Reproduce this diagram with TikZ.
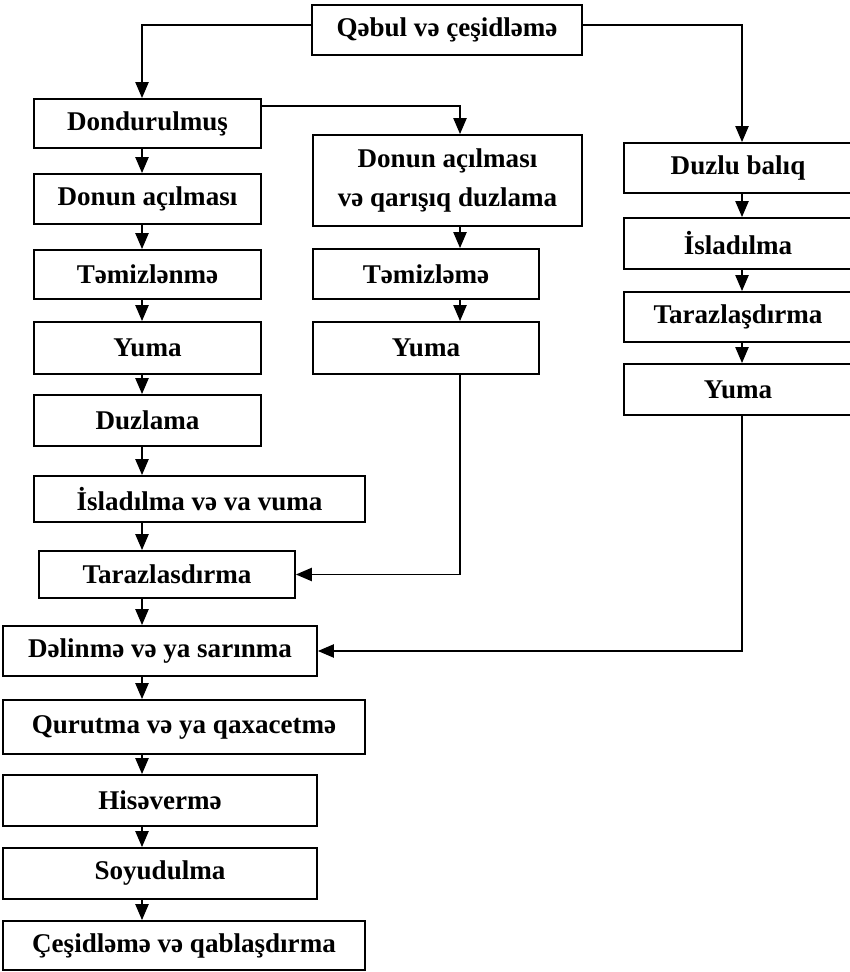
\documentclass[tikz,border=0pt]{standalone}
\usepackage{fontspec}
\setmainfont{Liberation Serif}
\usetikzlibrary{arrows.meta}

\tikzset{
  box/.style={draw, line width=1.1pt, inner sep=0pt, align=center,
    font=\bfseries\fontsize{15.4}{22}\selectfont},
  arr/.style={line width=0.75pt, -{Triangle[length=9pt,width=7.5pt]}}
}

\begin{document}
\begin{tikzpicture}[x=0.02cm, y=-0.02cm]

  \useasboundingbox (0,0) rectangle (849,972);

  % ---- columns of the vertical arrows ----
  \coordinate (lcol) at (142,0);
  \coordinate (mcol) at (460,0);
  \coordinate (rcol) at (742,0);

  % ---- top ----
  \node[box, minimum width=5.4cm, minimum height=1.0cm] (qabul) at (447,30) {Qəbul və çeşidləmə};

  % ---- left column ----
  \node[box, minimum width=4.54cm, minimum height=0.98cm] (dond)    at (147.5,123.5) {Dondurulmuş};
  \node[box, minimum width=4.54cm, minimum height=1.0cm]  (donun)   at (147.5,199)   {Donun açılması};
  \node[box, minimum width=4.54cm, minimum height=0.98cm] (temizl)  at (147.5,274.5) {Təmizlənmə};
  \node[box, minimum width=4.54cm, minimum height=1.04cm] (yumaL)   at (147.5,348)   {Yuma};
  \node[box, minimum width=4.54cm, minimum height=1.02cm] (duzlama) at (147.5,420.5) {Duzlama};
  \node[box, minimum width=6.62cm, minimum height=0.92cm] (islad)   at (199.5,499)   {İsladılma və va vuma};
  \node[box, minimum width=5.12cm, minimum height=0.94cm] (taraz)   at (167,574.5)   {Tarazlasdırma};
  \node[box, minimum width=6.28cm, minimum height=1.0cm]  (delinme) at (160,651)     {Dəlinmə və ya sarınma};
  \node[box, minimum width=7.24cm, minimum height=1.08cm] (qurutma) at (184,727)     {Qurutma və ya qaxacetmə};
  \node[box, minimum width=6.28cm, minimum height=1.02cm] (hise)    at (160,800.5)   {Hisəvermə};
  \node[box, minimum width=6.28cm, minimum height=1.02cm] (soyud)   at (160,873.5)   {Soyudulma};
  \node[box, minimum width=7.24cm, minimum height=0.98cm] (cesid)   at (184,945.5)   {Çeşidləmə və qablaşdırma};

  % ---- middle column ----
  \node[box, minimum width=5.38cm, minimum height=1.82cm] (donunM) at (447.5,180.5) {Donun açılması\\və qarışıq duzlama};
  \node[box, minimum width=4.52cm, minimum height=1.0cm]  (temizM) at (426,274)     {Təmizləmə};
  \node[box, minimum width=4.52cm, minimum height=1.04cm] (yumaM)  at (426,348)     {Yuma};

  % ---- right column (runs past the page edge) ----
  \node[box, minimum width=4.56cm, minimum height=1.0cm]  (duzlu)  at (738,168)   {Duzlu balıq};
  \node[box, minimum width=4.56cm, minimum height=1.02cm] (isladR) at (738,243.5) {İsladılma};
  \node[box, minimum width=4.56cm, minimum height=1.0cm]  (tarazR) at (738,317)   {Tarazlaşdırma};
  \node[box, minimum width=4.56cm, minimum height=1.02cm] (yumaR)  at (738,389.5) {Yuma};

  % ---- branches ----
  \draw[arr] ([yshift=2.8pt]qabul.west) -| (dond.north -| lcol);
  \draw[arr] ([yshift=2.8pt]qabul.east) -| (duzlu.north -| rcol);
  \draw[arr] ([yshift=-4.5pt]dond.north east) -| (donunM.north -| mcol);

  % ---- chains ----
  \foreach \a/\b in {dond/donun, donun/temizl, temizl/yumaL, yumaL/duzlama,
      duzlama/islad, islad/taraz, taraz/delinme, delinme/qurutma,
      qurutma/hise, hise/soyud, soyud/cesid}
    \draw[arr] (\a.south -| lcol) -- (\b.north -| lcol);
  \foreach \a/\b in {donunM/temizM, temizM/yumaM}
    \draw[arr] (\a.south -| mcol) -- (\b.north -| mcol);
  \foreach \a/\b in {duzlu/isladR, isladR/tarazR, tarazR/yumaR}
    \draw[arr] (\a.south -| rcol) -- (\b.north -| rcol);

  % ---- joins back into the left column ----
  \draw[arr] (yumaM.south -| mcol) |- (taraz.east);
  \draw[arr] (yumaR.south -| rcol) |- (delinme.east);

\end{tikzpicture}
\end{document}
